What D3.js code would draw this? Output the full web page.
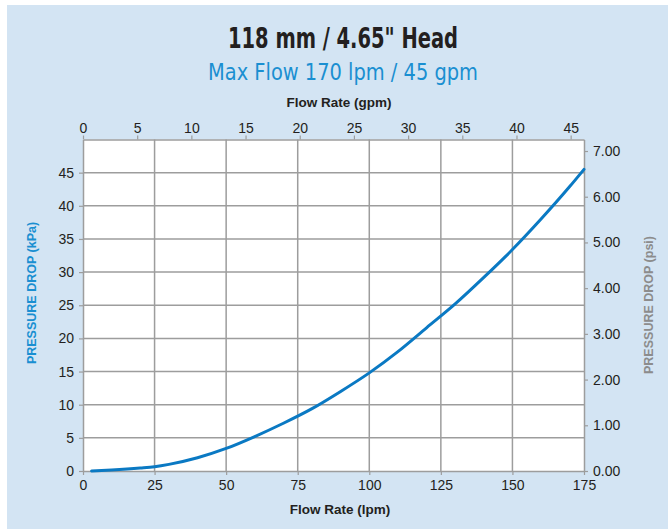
<!DOCTYPE html>
<html>
<head>
<meta charset="utf-8">
<script src="https://cdn.jsdelivr.net/npm/d3@7"></script>
<style>
  html, body { margin: 0; padding: 0; background: #ffffff; }
  svg { display: block; }
  .tick text { font-family: "Liberation Sans", Arial, sans-serif; font-size: 14px; fill: #231f20; }
</style>
</head>
<body>
<svg id="chart" width="668" height="529"></svg>
<script>
// Pressure drop curve for the 118 mm head
const flowLpm = [3, 10, 20, 25, 30, 40, 50, 60, 70, 80, 90, 100, 110, 120, 130, 140, 150, 160, 170, 175];
const dropKpa = [0, 0.15, 0.45, 0.65, 1.0, 2.0, 3.4, 5.2, 7.2, 9.4, 12.0, 14.8, 18.0, 21.6, 25.2, 29.2, 33.4, 38.0, 42.9, 45.5];

const lpmTicks = [0, 25, 50, 75, 100, 125, 150, 175];
const gpmTicks = [0, 5, 10, 15, 20, 25, 30, 35, 40, 45];
const kpaTicks = [0, 5, 10, 15, 20, 25, 30, 35, 40, 45];
const psiTicks = [0, 1, 2, 3, 4, 5, 6, 7];

const LPM_PER_GPM = 3.78541;
const KPA_PER_PSI = 6.89476;

const svg = d3.select("#chart");
const W = 668, H = 529;
const m = { left: 83, right: 584, top: 139.5, bottom: 471 };

// panel background
svg.append("rect").attr("x", 7).attr("y", 5).attr("width", W - 7).attr("height", H - 5)
  .attr("fill", "#d3e4f3");

const x = d3.scaleLinear().domain([0, 175]).range([m.left, m.right]);
const xg = d3.scaleLinear().domain([0, 175 / LPM_PER_GPM]).range([m.left, m.right]);
const y = d3.scaleLinear().domain([0, 50]).range([m.bottom, m.top]);
const yp = d3.scaleLinear().domain([0, 50 / KPA_PER_PSI]).range([m.bottom, m.top]);

// plot area
svg.append("rect").attr("x", m.left).attr("y", m.top)
  .attr("width", m.right - m.left).attr("height", m.bottom - m.top).attr("fill", "#ffffff");

const gridColor = "#9d9d9d";
const grid = svg.append("g");
grid.selectAll(".vg").data(lpmTicks.filter(d => d > 0 && d < 175)).join("line")
  .attr("x1", d => x(d)).attr("x2", d => x(d)).attr("y1", m.top).attr("y2", m.bottom)
  .attr("stroke", gridColor).attr("stroke-width", 1.5);
grid.selectAll(".hg").data(kpaTicks.filter(d => d > 0)).join("line")
  .attr("x1", m.left).attr("x2", m.right).attr("y1", d => y(d)).attr("y2", d => y(d))
  .attr("stroke", gridColor).attr("stroke-width", 1.5);

function styleAxis(g) {
  g.selectAll(".domain").attr("stroke", gridColor).attr("stroke-width", 1.5);
  g.selectAll(".tick line").attr("stroke", gridColor).attr("stroke-width", 1.2);
}

// bottom axis: lpm
svg.append("g").attr("transform", `translate(0,${m.bottom})`)
  .call(d3.axisBottom(x).tickValues(lpmTicks).tickSize(4).tickSizeOuter(0).tickPadding(5).tickFormat(d3.format("d")))
  .call(styleAxis);

// top axis: gpm
svg.append("g").attr("transform", `translate(0,${m.top})`)
  .call(d3.axisTop(xg).tickValues(gpmTicks).tickSize(4).tickSizeOuter(0).tickPadding(3).tickFormat(d3.format("d")))
  .call(styleAxis);

// left axis: kPa
svg.append("g").attr("transform", `translate(${m.left},0)`)
  .call(d3.axisLeft(y).tickValues(kpaTicks).tickSize(4).tickSizeOuter(0).tickPadding(5).tickFormat(d3.format("d")))
  .call(styleAxis);

// right axis: psi
svg.append("g").attr("transform", `translate(${m.right},0)`)
  .call(d3.axisRight(yp).tickValues(psiTicks).tickSize(4).tickSizeOuter(0).tickPadding(5).tickFormat(d3.format(".2f")))
  .call(styleAxis);

// curve
const line = d3.line().x((d, i) => x(flowLpm[i])).y(d => y(d)).curve(d3.curveMonotoneX);
svg.append("path").datum(dropKpa).attr("d", line)
  .attr("fill", "none").attr("stroke", "#0a79c3").attr("stroke-width", 3).attr("stroke-linecap", "round");

// titles
const condensed = '"Liberation Sans Narrow", "DejaVu Sans Condensed", "Roboto Condensed", sans-serif';
svg.append("text").attr("x", 343).attr("y", 48).attr("text-anchor", "middle")
  .attr("font-family", condensed).attr("font-weight", "bold").attr("font-size", 29)
  .attr("textLength", 230).attr("lengthAdjust", "spacingAndGlyphs")
  .attr("fill", "#231f20").text("118 mm / 4.65\" Head");
svg.append("text").attr("x", 343).attr("y", 80).attr("text-anchor", "middle")
  .attr("font-family", condensed).attr("font-size", 23)
  .attr("textLength", 270).attr("lengthAdjust", "spacingAndGlyphs")
  .attr("fill", "#1a8fd1").text("Max Flow 170 lpm / 45 gpm");

const sans = '"Liberation Sans", Arial, sans-serif';
svg.append("text").attr("x", 339).attr("y", 107).attr("text-anchor", "middle")
  .attr("font-family", sans).attr("font-weight", "bold").attr("font-size", 13.5)
  .attr("fill", "#231f20").text("Flow Rate (gpm)");
svg.append("text").attr("x", 340).attr("y", 514).attr("text-anchor", "middle")
  .attr("font-family", sans).attr("font-weight", "bold").attr("font-size", 13.5)
  .attr("fill", "#231f20").text("Flow Rate (lpm)");
svg.append("text").attr("transform", "translate(36,293) rotate(-90)").attr("text-anchor", "middle")
  .attr("font-family", sans).attr("font-weight", "bold").attr("font-size", 12.5)
  .attr("fill", "#1a8fd1").text("PRESSURE DROP (kPa)");
svg.append("text").attr("transform", "translate(653,305) rotate(-90)").attr("text-anchor", "middle")
  .attr("font-family", sans).attr("font-weight", "bold").attr("font-size", 12.5)
  .attr("fill", "#8c8c8c").text("PRESSURE DROP (psi)");
</script>
</body>
</html>
